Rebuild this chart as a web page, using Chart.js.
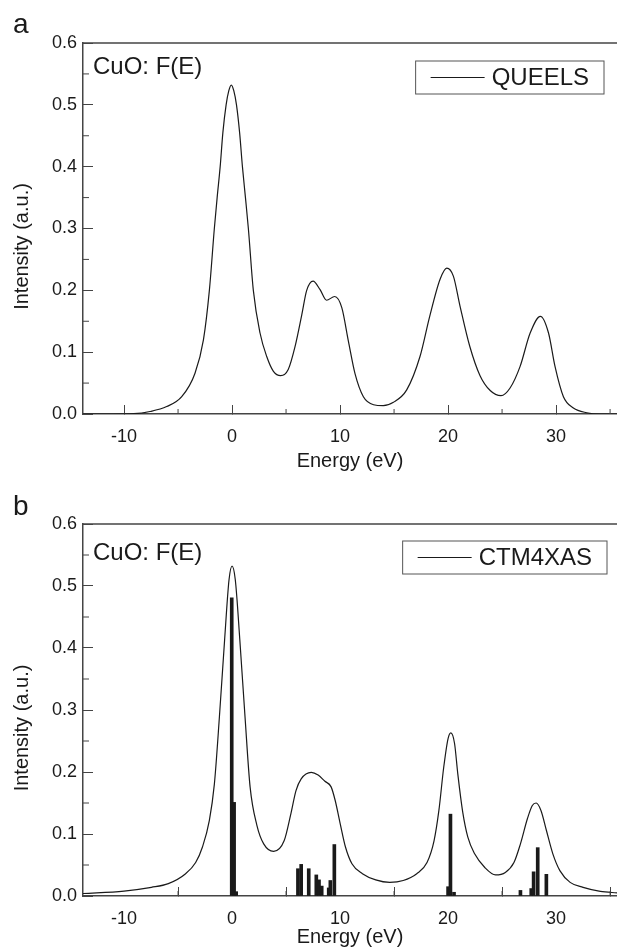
<!DOCTYPE html>
<html>
<head>
<meta charset="utf-8">
<script src="https://cdn.jsdelivr.net/npm/chart.js@4.4.1/dist/chart.umd.min.js"></script>
<style>
  body { margin: 0; background: #fff; }
  canvas { display: block; }
</style>
</head>
<body>
<canvas id="chart-a" width="617" height="476"></canvas>
<canvas id="chart-b" width="617" height="476"></canvas>
<script>
// Axis ticks
const xTicks = [-10, 0, 10, 20, 30];
const xMinorTicks = [-5, 5, 15, 25, 35];
const yTicks = [0, 0.1, 0.2, 0.3, 0.4, 0.5, 0.6];
const yMinorTicks = [0.05, 0.15, 0.25, 0.35, 0.45, 0.55];

// Panel a: QUEELS
const queelsEnergy = [-13.8, -11, -9.1, -7.6, -6.05, -4.66, -3.43, -2.65, -2.1, -1.64, -1.38, -1.1, -0.85, -0.55, -0.3, -0.07,
  0.16, 0.41, 0.7, 0.96, 1.24, 1.51, 1.97, 2.59, 3.21, 3.83, 4.5, 5.2, 5.83, 6.45, 6.91, 7.5, 8.15, 8.75, 9.5, 10.16,
  10.77, 11.39, 12.16, 13.1, 14.0, 14.94, 16.17, 17.4, 18.3, 19.26, 19.88, 20.49, 21.1, 22.0, 22.96, 23.9, 24.9,
  25.74, 26.67, 27.6, 28.55, 29.3, 29.9, 30.68, 31.6, 32.84, 34.07, 35.7];
const queelsIntensity = [0, 0, 0.0005, 0.004, 0.012, 0.028, 0.066, 0.12, 0.2, 0.3, 0.35, 0.4, 0.455, 0.5, 0.523, 0.532,
  0.523, 0.5, 0.455, 0.4, 0.35, 0.3, 0.2, 0.131, 0.093, 0.069, 0.062, 0.072, 0.109, 0.16, 0.2, 0.215, 0.201, 0.184, 0.19, 0.172,
  0.118, 0.065, 0.028, 0.015, 0.0135, 0.019, 0.039, 0.093, 0.158, 0.218, 0.236, 0.223, 0.175, 0.11, 0.062, 0.038, 0.0296,
  0.042, 0.077, 0.131, 0.158, 0.131, 0.077, 0.028, 0.0096, 0.002, 0, 0];

// Panel b: CTM4XAS broadened curve
const ctmEnergy = [-13.8, -10, -7.47, -5.9, -4.3, -3.37, -2.74, -2.1, -1.64, -1.17, -0.69, -0.28, 0, 0.3, 0.72,
  1.2, 1.67, 2.3, 2.93, 3.85, 4.82, 5.45, 5.92, 6.4, 7.34, 7.97, 8.6, 9.17, 9.55, 10.02, 10.5, 11.1, 12.07,
  13.3, 14.6, 15.85, 17.1, 18.05, 18.7, 19.15, 19.6, 20.0, 20.26, 20.6, 20.9, 21.36, 21.83, 22.46, 23.4,
  24.4, 25.3, 26.1, 26.7, 27.35, 27.8, 28.15, 28.6, 29.1, 29.7, 30.35, 31.3, 32.5, 34.1, 35.7];
const ctmIntensity = [0.004, 0.008, 0.014, 0.02, 0.036, 0.054, 0.079, 0.122, 0.18, 0.289, 0.413, 0.51, 0.532, 0.51, 0.413,
  0.289, 0.176, 0.114, 0.084, 0.072, 0.089, 0.133, 0.17, 0.189, 0.1995, 0.195, 0.185, 0.176, 0.154, 0.116, 0.079, 0.052, 0.036,
  0.026, 0.022, 0.025, 0.036, 0.054, 0.089, 0.138, 0.208, 0.254, 0.263, 0.246, 0.197, 0.135, 0.095, 0.068, 0.046,
  0.034, 0.038, 0.054, 0.084, 0.125, 0.146, 0.15, 0.138, 0.106, 0.068, 0.041, 0.022, 0.014, 0.0075, 0.005];

// Panel b: multiplet sticks
const stickEnergy = [-0.03, 0.19, 0.38, 6.1, 6.4, 7.1, 7.8, 8.05, 8.3, 8.95, 9.1, 9.47, 20.0, 20.22, 20.55,
  26.7, 27.7, 27.92, 28.3, 29.1];
const stickIntensity = [0.481, 0.151, 0.007, 0.044, 0.051, 0.044, 0.034, 0.026, 0.016, 0.013, 0.025, 0.083, 0.015, 0.132, 0.006,
  0.009, 0.012, 0.039, 0.078, 0.035];

const FONT = '"Liberation Sans", Arial, sans-serif';
const INK = '#1a1a1a';
const AXIS = '#444';

const toPoints = (xs, ys) => xs.map((x, i) => ({ x: x, y: ys[i] }));

// Top border, minor ticks, y title, panel letter, note and boxed legend
const framePlugin = {
  id: 'frame',
  afterDraw(chart, args, opts) {
    const ctx = chart.ctx;
    const area = chart.chartArea;
    const xs = chart.scales.x;
    const ys = chart.scales.y;
    ctx.save();

    ctx.strokeStyle = AXIS;
    ctx.lineWidth = 1.5;
    ctx.beginPath();
    ctx.moveTo(area.left, area.top);
    ctx.lineTo(area.right, area.top);
    ctx.stroke();

    ctx.lineWidth = 1;
    ctx.beginPath();
    xMinorTicks.forEach(v => {
      const px = xs.getPixelForValue(v);
      ctx.moveTo(px, area.bottom);
      ctx.lineTo(px, area.bottom - 5);
    });
    yMinorTicks.forEach(v => {
      const py = ys.getPixelForValue(v);
      ctx.moveTo(area.left, py);
      ctx.lineTo(area.left + 6, py);
    });
    ctx.stroke();

    ctx.fillStyle = INK;

    // y axis title, sits a bit below the middle of the axis
    ctx.save();
    ctx.translate(22, (area.top + area.bottom) / 2 + 18);
    ctx.rotate(-Math.PI / 2);
    ctx.font = '20px ' + FONT;
    ctx.textAlign = 'center';
    ctx.textBaseline = 'middle';
    ctx.fillText('Intensity (a.u.)', 0, 0);
    ctx.restore();

    ctx.textBaseline = 'alphabetic';
    ctx.textAlign = 'left';
    ctx.font = '28px ' + FONT;
    ctx.fillText(opts.letter, 13, opts.letterY);

    ctx.font = '24px ' + FONT;
    ctx.fillText(opts.note, area.left + 10, area.top + opts.noteTop);

    // legend
    const ds = chart.data.datasets[0];
    const tw = ctx.measureText(ds.label).width;
    const w = 15 + 54 + 7 + tw + 15;
    const h = 33;
    const x0 = area.right - opts.legendRight - w;
    const y0 = area.top + opts.legendTop;
    ctx.strokeStyle = '#555';
    ctx.lineWidth = 1;
    ctx.strokeRect(x0, y0, w, h);
    ctx.strokeStyle = ds.borderColor;
    ctx.beginPath();
    ctx.moveTo(x0 + 15, y0 + h / 2);
    ctx.lineTo(x0 + 69, y0 + h / 2);
    ctx.stroke();
    ctx.textBaseline = 'middle';
    ctx.fillText(ds.label, x0 + 76, y0 + h / 2 + 1);

    ctx.restore();
  }
};

function makeScales(xHeight) {
  return {
    x: {
      type: 'linear',
      min: -13.8,
      max: 35.64,
      offset: false,
      afterBuildTicks: s => { s.ticks = xTicks.map(v => ({ value: v })); },
      afterFit: s => { s.height = xHeight; },
      grid: { drawOnChartArea: false, tickLength: -9, tickColor: AXIS, tickWidth: 1 },
      border: { color: AXIS, width: 1.5 },
      ticks: { color: INK, padding: 21, maxRotation: 0, font: { family: FONT, size: 18 } },
      title: { display: true, text: 'Energy (eV)', color: INK, padding: { top: 0, bottom: 3 }, font: { family: FONT, size: 20 } }
    },
    y: {
      min: 0,
      max: 0.6,
      afterBuildTicks: s => { s.ticks = yTicks.map(v => ({ value: v })); },
      afterFit: s => { s.width = 83; },
      grid: { drawOnChartArea: false, tickLength: -10, tickColor: AXIS, tickWidth: 1 },
      border: { color: AXIS, width: 1.5 },
      ticks: { color: INK, padding: 16, font: { family: FONT, size: 18 }, callback: v => v.toFixed(1) },
      title: { display: false }
    }
  };
}

function createQueelsChart() {
  const ctx = document.getElementById('chart-a').getContext('2d');
  new Chart(ctx, {
    type: 'line',
    data: {
      datasets: [{
        label: 'QUEELS',
        data: toPoints(queelsEnergy, queelsIntensity),
        borderColor: INK,
        borderWidth: 1.2,
        pointRadius: 0,
        cubicInterpolationMode: 'monotone'
      }]
    },
    options: {
      responsive: false,
      animation: false,
      devicePixelRatio: 1,
      layout: { padding: { top: 43, left: 0, right: 0, bottom: 0 } },
      plugins: {
        legend: { display: false },
        tooltip: { enabled: false },
        frame: { letter: 'a', letterY: 33, note: 'CuO: F(E)', noteTop: 31, legendRight: 13, legendTop: 18 }
      },
      scales: makeScales(62)
    },
    plugins: [framePlugin]
  });
}

function createCtmChart() {
  const ctx = document.getElementById('chart-b').getContext('2d');
  new Chart(ctx, {
    type: 'line',
    data: {
      datasets: [
        {
          label: 'CTM4XAS',
          data: toPoints(ctmEnergy, ctmIntensity),
          borderColor: INK,
          borderWidth: 1.2,
          pointRadius: 0,
          cubicInterpolationMode: 'monotone'
        },
        {
          type: 'bar',
          label: 'sticks',
          data: toPoints(stickEnergy, stickIntensity),
          backgroundColor: INK,
          barThickness: 3
        }
      ]
    },
    options: {
      responsive: false,
      animation: false,
      devicePixelRatio: 1,
      layout: { padding: { top: 48, left: 0, right: 0, bottom: 0 } },
      plugins: {
        legend: { display: false },
        tooltip: { enabled: false },
        frame: { letter: 'b', letterY: 39, note: 'CuO: F(E)', noteTop: 36, legendRight: 10, legendTop: 17 }
      },
      scales: makeScales(56)
    },
    plugins: [framePlugin]
  });
}

createQueelsChart();
createCtmChart();
</script>
</body>
</html>
